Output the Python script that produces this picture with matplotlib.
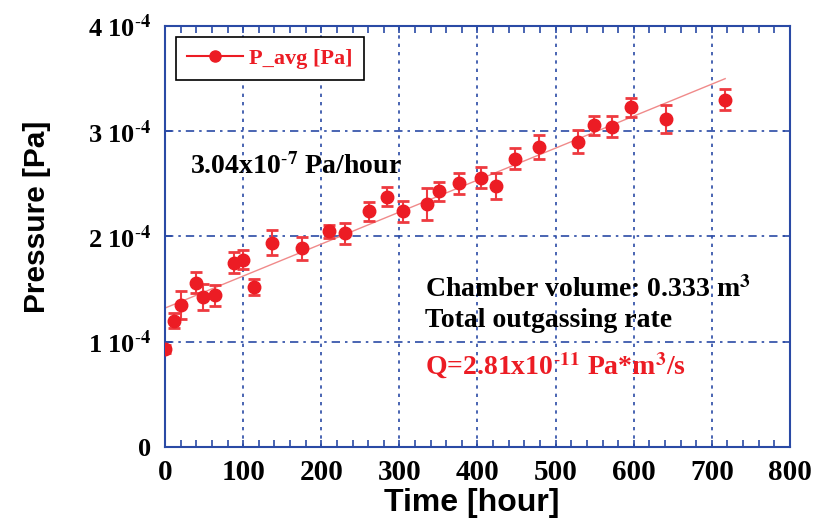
import matplotlib
matplotlib.use("Agg")
import matplotlib.pyplot as plt
import numpy as np
from matplotlib.ticker import MultipleLocator, FuncFormatter

# measured points (time in hours, pressure in Pa)
time_h = [0, 11.5, 20.5, 39.7, 48.3, 64, 88.7, 99.5, 113.5, 137.3, 175, 210, 230.8,
          261, 283.8, 304, 335.8, 351, 376.7, 404, 423.7, 448, 479, 529, 549,
          572.5, 596.5, 641.7, 716.4]
p_avg = np.array([0.93, 1.20, 1.35, 1.56, 1.425, 1.44, 1.75, 1.78, 1.52, 1.94, 1.89,
                  2.05, 2.03, 2.24, 2.38, 2.24, 2.31, 2.43, 2.505, 2.56, 2.48, 2.74,
                  2.85, 2.90, 3.055, 3.045, 3.23, 3.115, 3.30]) * 1e-4
p_err = np.array([0.04, 0.07, 0.13, 0.10, 0.12, 0.10, 0.10, 0.09, 0.08, 0.12, 0.11,
                  0.06, 0.10, 0.09, 0.09, 0.10, 0.15, 0.09, 0.10, 0.10, 0.12, 0.10,
                  0.11, 0.11, 0.09, 0.10, 0.09, 0.13, 0.10]) * 1e-4

# linear fit
fit_slope = 3.04e-7
fit_intercept = 1.32e-4
fit_range = [0, 717]

red = "#ec1c24"
blue = "#2a4aa5"
serif = "Liberation Serif"
plt.rcParams["mathtext.fontset"] = "stix"

fig = plt.figure(figsize=(8.19, 5.26), dpi=100)
ax = fig.add_axes([165 / 819, 1 - 447 / 526, 625 / 819, 421 / 526])

fx = np.array(fit_range)
ax.plot(fx, fit_intercept + fit_slope * fx, color="#f08a8a", lw=1.0, zorder=2)
ax.errorbar(time_h, p_avg, yerr=p_err, fmt="o", color=red, ms=9, ecolor="#ee3a40",
            elinewidth=1.5, capsize=4, capthick=2, zorder=3)
ax.plot([], [], "-o", color=red, ms=8, lw=1.5, label="P_avg [Pa]")

ax.set_xlim(0, 800)
ax.set_ylim(0, 4e-4)
ax.xaxis.set_major_locator(MultipleLocator(100))
ax.xaxis.set_minor_locator(MultipleLocator(20))
ax.yaxis.set_major_locator(MultipleLocator(1e-4))


def yfmt(v, pos):
    n = int(round(v * 1e4))
    if n == 0:
        return "0"
    return "%d 10$^{\\text{-}\\mathbf{4}}$" % n


ax.yaxis.set_major_formatter(FuncFormatter(yfmt))
ax.tick_params(which="both", direction="in", top=True, right=True, color=blue,
               length=5, width=1.2)
ax.tick_params(axis="x", pad=9)
ax.tick_params(axis="y", pad=10)
for lab in ax.get_xticklabels():
    lab.set_fontfamily(serif)
    lab.set_fontweight("bold")
    lab.set_fontsize(21)
for lab in ax.get_yticklabels():
    lab.set_fontfamily(serif)
    lab.set_fontweight("bold")
    lab.set_fontsize(19)

for s in ax.spines.values():
    s.set_color(blue)
    s.set_linewidth(1.5)

ax.grid(axis="x", which="major", color=blue, ls=(0, (2, 3)), lw=1.2)
ax.grid(axis="y", which="major", color=blue, ls=(0, (5, 3, 1.5, 3)), lw=1.2)

ax.set_xlabel("Time [hour]", fontfamily="Liberation Sans", fontweight="bold", fontsize=23)
ax.set_ylabel("Pressure [Pa]", fontfamily="Liberation Sans", fontweight="bold", fontsize=21.5)
ax.xaxis.set_label_coords(0.49, -0.098)
ax.yaxis.set_label_coords(-0.182, 0.546)

leg = ax.legend(loc="upper left", bbox_to_anchor=(0.0176, 0.974), borderaxespad=0,
                fancybox=False, edgecolor="black", framealpha=1, handlelength=2.5,
                handletextpad=0.3, borderpad=0.5,
                prop={"family": serif, "weight": "bold", "size": 16}, labelcolor=red)
leg.get_frame().set_linewidth(1.2)

tkw = dict(fontfamily=serif, fontweight="bold", fontsize=20, va="baseline")
ax.text(32, 2.59e-4, "3.04x10$^{\\text{-}\\mathbf{7}}$ Pa/hour", color="black", **tkw)
ax.text(333, 1.426e-4, "Chamber volume: 0.333 m$^{\\mathbf{3}}$", color="black", **tkw)
ax.text(333, 1.139e-4, "Total outgassing rate", color="black", **tkw)
ax.text(333, 0.689e-4, "Q=2.81x10$^{\\text{-}\\mathbf{11}}$ Pa*m$^{\\mathbf{3}}$/s", color=red, **tkw)

fig.savefig("out.png", dpi=100)
